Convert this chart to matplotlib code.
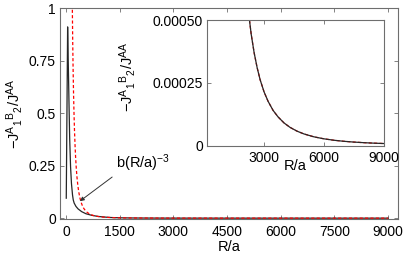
import matplotlib
matplotlib.use("Agg")
import matplotlib.pyplot as plt
from matplotlib.ticker import FixedLocator, FixedFormatter

plt.rcParams['font.family'] = ['Liberation Sans', 'DejaVu Sans']
plt.rcParams['mathtext.fontset'] = 'custom'
plt.rcParams['mathtext.rm'] = 'Liberation Sans'
plt.rcParams['mathtext.it'] = 'Liberation Sans'
plt.rcParams['mathtext.bf'] = 'Liberation Sans:bold'
plt.rcParams['mathtext.default'] = 'rm'

# ---- data ----
R_black = [10, 48, 65, 85, 105, 130, 155, 185, 205, 230, 280, 340, 440, 560, 720,
           900, 1040, 1250, 1400, 1600, 1800, 2000, 2200, 2350, 2500, 2650, 2800,
           3000, 3200, 3450, 3700, 4000, 4300, 4650, 5000, 5500, 6000, 6500, 7000,
           7500, 8000, 8500, 9000]
J_black = [0.095, 0.91, 0.75, 0.56, 0.38, 0.245, 0.165, 0.11, 0.087, 0.072, 0.056,
           0.044, 0.031, 0.021, 0.0135, 0.0082, 0.0058, 0.0031, 0.00215, 0.00141,
           0.00099, 0.00072, 0.000541, 0.000444, 0.000369, 0.00031, 0.000262,
           0.000213, 0.000176, 0.00014, 0.000114, 0.00009, 0.0000724, 0.0000573,
           0.0000461, 0.0000346, 0.0000267, 0.000021, 0.0000168, 0.0000137,
           0.0000113, 0.0000094, 0.0000079]

R_fit = [165, 172, 180, 190, 200, 212, 225, 240, 255, 270, 290, 310, 335, 360, 390,
         420, 460, 500, 550, 600, 675, 750, 825, 900, 1000, 1100, 1250, 1400, 1600,
         1800, 2000, 2200, 2350, 2500, 2650, 2800, 3000, 3200, 3450, 3700, 4000,
         4300, 4650, 5000, 5500, 6000, 6500, 7000, 7500, 8000, 8500, 9000]
J_fit = [1.282, 1.132, 0.988, 0.840, 0.72, 0.6045, 0.506, 0.4167, 0.3474, 0.2926,
         0.2362, 0.1933, 0.1532, 0.1235, 0.0971, 0.0777, 0.0592, 0.0461, 0.0346,
         0.0267, 0.01873, 0.01365, 0.01026, 0.0079, 0.00576, 0.00433, 0.00295,
         0.0021, 0.00141, 0.000988, 0.00072, 0.000541, 0.000444, 0.000369, 0.00031,
         0.000262, 0.000213, 0.000176, 0.00014, 0.000114, 0.00009, 0.0000724,
         0.0000573, 0.0000461, 0.0000346, 0.0000267, 0.000021, 0.0000168,
         0.0000137, 0.0000113, 0.0000094, 0.0000079]

main_xticks = [0, 1500, 3000, 4500, 6000, 7500, 9000]
main_yticks = [0, 0.25, 0.5, 0.75, 1]
main_ylabels = ["0", "0.25", "0.5", "0.75", "1"]
ins_xticks = [3000, 6000, 9000]
ins_yticks = [0, 0.00025, 0.0005]
ins_ylabels = ["0", "0.00025", "0.00050"]

ylab = r"$-J^{A}{}_{1}{}^{B}{}_{2}/J^{AA}$"
spine_col = '#6e6e6e'
line_col = '#262626'
dash = (0, (2.5, 1.8))

W, H = 409, 258
fig = plt.figure(figsize=(W / 100, H / 100), dpi=100)

def frac(l, t, r, b):
    return [l / W, 1 - b / H, (r - l) / W, (b - t) / H]

def style(ax, fs):
    for s in ax.spines.values():
        s.set_color(spine_col)
        s.set_linewidth(0.8)
    ax.tick_params(direction='in', length=3, width=0.6, color=spine_col,
                   top=True, right=True, labelsize=fs, pad=4, labelcolor='black')

ax = fig.add_axes(frac(60, 8, 398, 219))
ax.plot(R_black, J_black, color=line_col, lw=0.9)
ax.plot(R_fit, J_fit, color='red', lw=0.9, ls=dash)
ax.set_xlim(-165, 9275)
ax.set_ylim(-0.004, 1)
ax.xaxis.set_major_locator(FixedLocator(main_xticks))
ax.yaxis.set_major_locator(FixedLocator(main_yticks))
ax.yaxis.set_major_formatter(FixedFormatter(main_ylabels))
style(ax, 10)
ax.tick_params(axis='y', pad=3)
ax.set_xlabel("R/a", fontsize=10.5)
ax.set_ylabel(ylab, fontsize=10.5)
ax.xaxis.set_label_coords(0.5, -0.1)
ax.yaxis.set_label_coords(-0.104, 0.5)
ax.annotate(r"$b(R/a)^{-3}$", xy=(391, 0.081), xytext=(1400, 0.238),
            fontsize=10.5, ha='left', va='baseline',
            arrowprops=dict(arrowstyle='-|>', lw=0.7, color='#333333',
                            mutation_scale=6, shrinkA=1, shrinkB=0,
                            relpos=(0, 0.0)))

ins = fig.add_axes(frac(207, 20, 383.5, 145.5))
ins.set_facecolor('white')
ins.plot(R_fit, J_fit, color='red', lw=0.9, ls=dash)
ins.plot(R_black, J_black, color=line_col, lw=0.9)
ins.set_xlim(130, 9000)
ins.set_ylim(0, 0.0005)
ins.xaxis.set_major_locator(FixedLocator(ins_xticks))
ins.yaxis.set_major_locator(FixedLocator(ins_yticks))
ins.yaxis.set_major_formatter(FixedFormatter(ins_ylabels))
style(ins, 10)
ins.tick_params(axis='y', pad=3)
ins.set_xlabel("R/a", fontsize=10.5)
ins.set_ylabel(ylab, fontsize=10.5)
ins.xaxis.set_label_coords(0.5, -0.11)
ins.yaxis.set_label_coords(-0.39, 0.55)

fig.savefig("out.png", dpi=100)
